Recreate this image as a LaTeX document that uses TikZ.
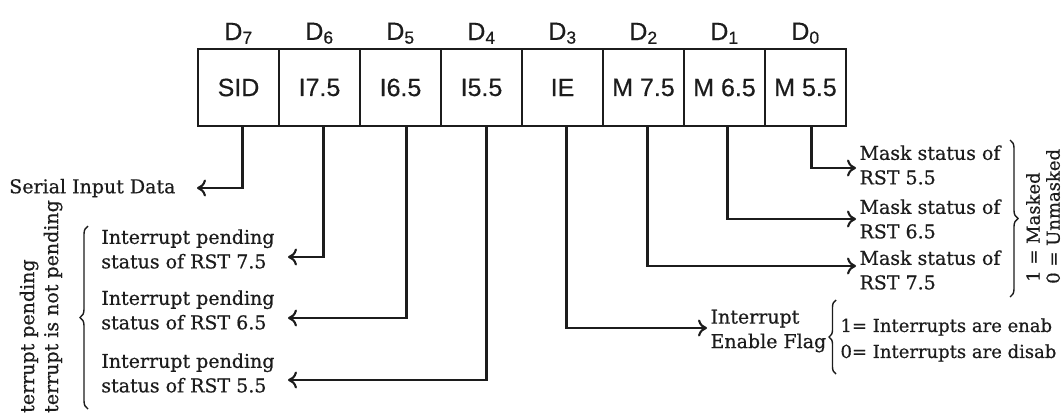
\documentclass[tikz,border=0pt]{standalone}
\usepackage{fontspec}
\setmainfont[FakeBold=0.6]{DejaVu Serif}
\newfontfamily\boxfont[FakeBold=0.4]{Liberation Sans}
\usepackage{tikz}
\usetikzlibrary{arrows.meta,positioning,decorations.pathreplacing}
\definecolor{ink}{HTML}{1C1C1C}
\tikzset{
  cell/.style={draw=ink, line width=2.2pt, minimum width=81pt, minimum height=77pt,
               inner sep=0pt, outer sep=0pt, text=ink, font=\boxfont\fontsize{25}{28}\selectfont},
  bitlbl/.style={inner sep=0pt, text=ink, font=\boxfont\fontsize{25}{28}\selectfont},
  note/.style={align=left, text=ink, font=\fontsize{19}{24.5}\selectfont},
  sidenote/.style={rotate=90, anchor=west, inner sep=0pt, text=ink, font=\fontsize{19}{22}\selectfont},
  conn/.style={-{To[length=9pt,width=17pt]}, line width=2.1pt, draw=ink},
  grp/.style={decorate, decoration={brace, amplitude=8pt}, line width=1.4pt, draw=ink}
}

\begin{document}
\begin{tikzpicture}[x=1pt,y=-1pt]
  \useasboundingbox (0,0) rectangle (1064,413);

  % the register
  \node[cell] (b7) at (238.5,87.5) {SID};
  \node[cell, right=0pt of b7] (b6) {I7.5};
  \node[cell, right=0pt of b6] (b5) {I6.5};
  \node[cell, right=0pt of b5] (b4) {I5.5};
  \node[cell, right=0pt of b4] (b3) {IE};
  \node[cell, right=0pt of b3] (b2) {M 7.5};
  \node[cell, right=0pt of b2] (b1) {M 6.5};
  \node[cell, right=0pt of b1] (b0) {M 5.5};

  \node[bitlbl, above=5pt of b7] (d7) {D\textsubscript{7}};
  \node[bitlbl, above=5pt of b6] (d6) {D\textsubscript{6}};
  \node[bitlbl, above=5pt of b5] (d5) {D\textsubscript{5}};
  \node[bitlbl, above=5pt of b4] (d4) {D\textsubscript{4}};
  \node[bitlbl, above=5pt of b3] (d3) {D\textsubscript{3}};
  \node[bitlbl, above=5pt of b2] (d2) {D\textsubscript{2}};
  \node[bitlbl, above=5pt of b1] (d1) {D\textsubscript{1}};
  \node[bitlbl, above=5pt of b0] (d0) {D\textsubscript{0}};

  % left hand notes
  \node[note, anchor=east] (sid) at (179,188) {Serial Input Data};
  \node[note, anchor=east] (ip75) at (278,249) {Interrupt pending\\status of RST 7.5};
  \node[note, anchor=east] (ip65) at (278,310) {Interrupt pending\\status of RST 6.5};
  \node[note, anchor=east] (ip55) at (278,373) {Interrupt pending\\status of RST 5.5};
  \draw[grp] (88,409) -- (88,226);
  \node[sidenote] (pend1) at (29,413) {terrupt pending};
  \node[sidenote] (pend0) at (53,413) {terrupt is not pending};

  % right hand notes
  \node[note, anchor=west] (ms55) at (856,165) {Mask status of\\RST 5.5};
  \node[note, anchor=west] (ms65) at (856,219) {Mask status of\\RST 6.5};
  \node[note, anchor=west] (ms75) at (856,270) {Mask status of\\RST 7.5};
  \draw[grp] (1010,140) -- (1010,297);
  \node[sidenote, font=\fontsize{18}{22}\selectfont] (msk1) at (1033,282) {1 = Masked};
  \node[sidenote, font=\fontsize{18}{22}\selectfont] (msk0) at (1053,284) {0 = Unmasked};

  \node[note, anchor=west] (ief) at (707,331) {Interrupt\\Enable Flag};
  \draw[grp, decoration={brace, amplitude=7pt}] (836,374) -- (836,300);
  \node[note, anchor=west, font=\fontsize{18}{22}\selectfont] (ie1) at (837,327) {1= Interrupts are enab};
  \node[note, anchor=west, font=\fontsize{18}{22}\selectfont] (ie0) at (837,353) {0= Interrupts are disab};

  % connectors
  \draw[conn, shorten >=18pt] ([xshift=4pt]b7.south) |- (sid.east);
  \draw[conn, shorten >=10pt] ([xshift=4pt]b6.south) |- ([yshift=-8pt]ip75.east);
  \draw[conn, shorten >=10pt] ([xshift=6pt]b5.south) |- ([yshift=-8pt]ip65.east);
  \draw[conn, shorten >=10pt] ([xshift=5pt]b4.south) |- ([yshift=-7pt]ip55.east);
  \draw[conn] ([xshift=4pt]b3.south) |- ([yshift=3pt]ief.west);
  \draw[conn] ([xshift=4pt]b2.south) |- ([yshift=4pt]ms75.west);
  \draw[conn] ([xshift=3pt]b1.south) |- (ms65.west);
  \draw[conn] ([xshift=6pt]b0.south) |- ([yshift=-3pt]ms55.west);
\end{tikzpicture}
\end{document}
